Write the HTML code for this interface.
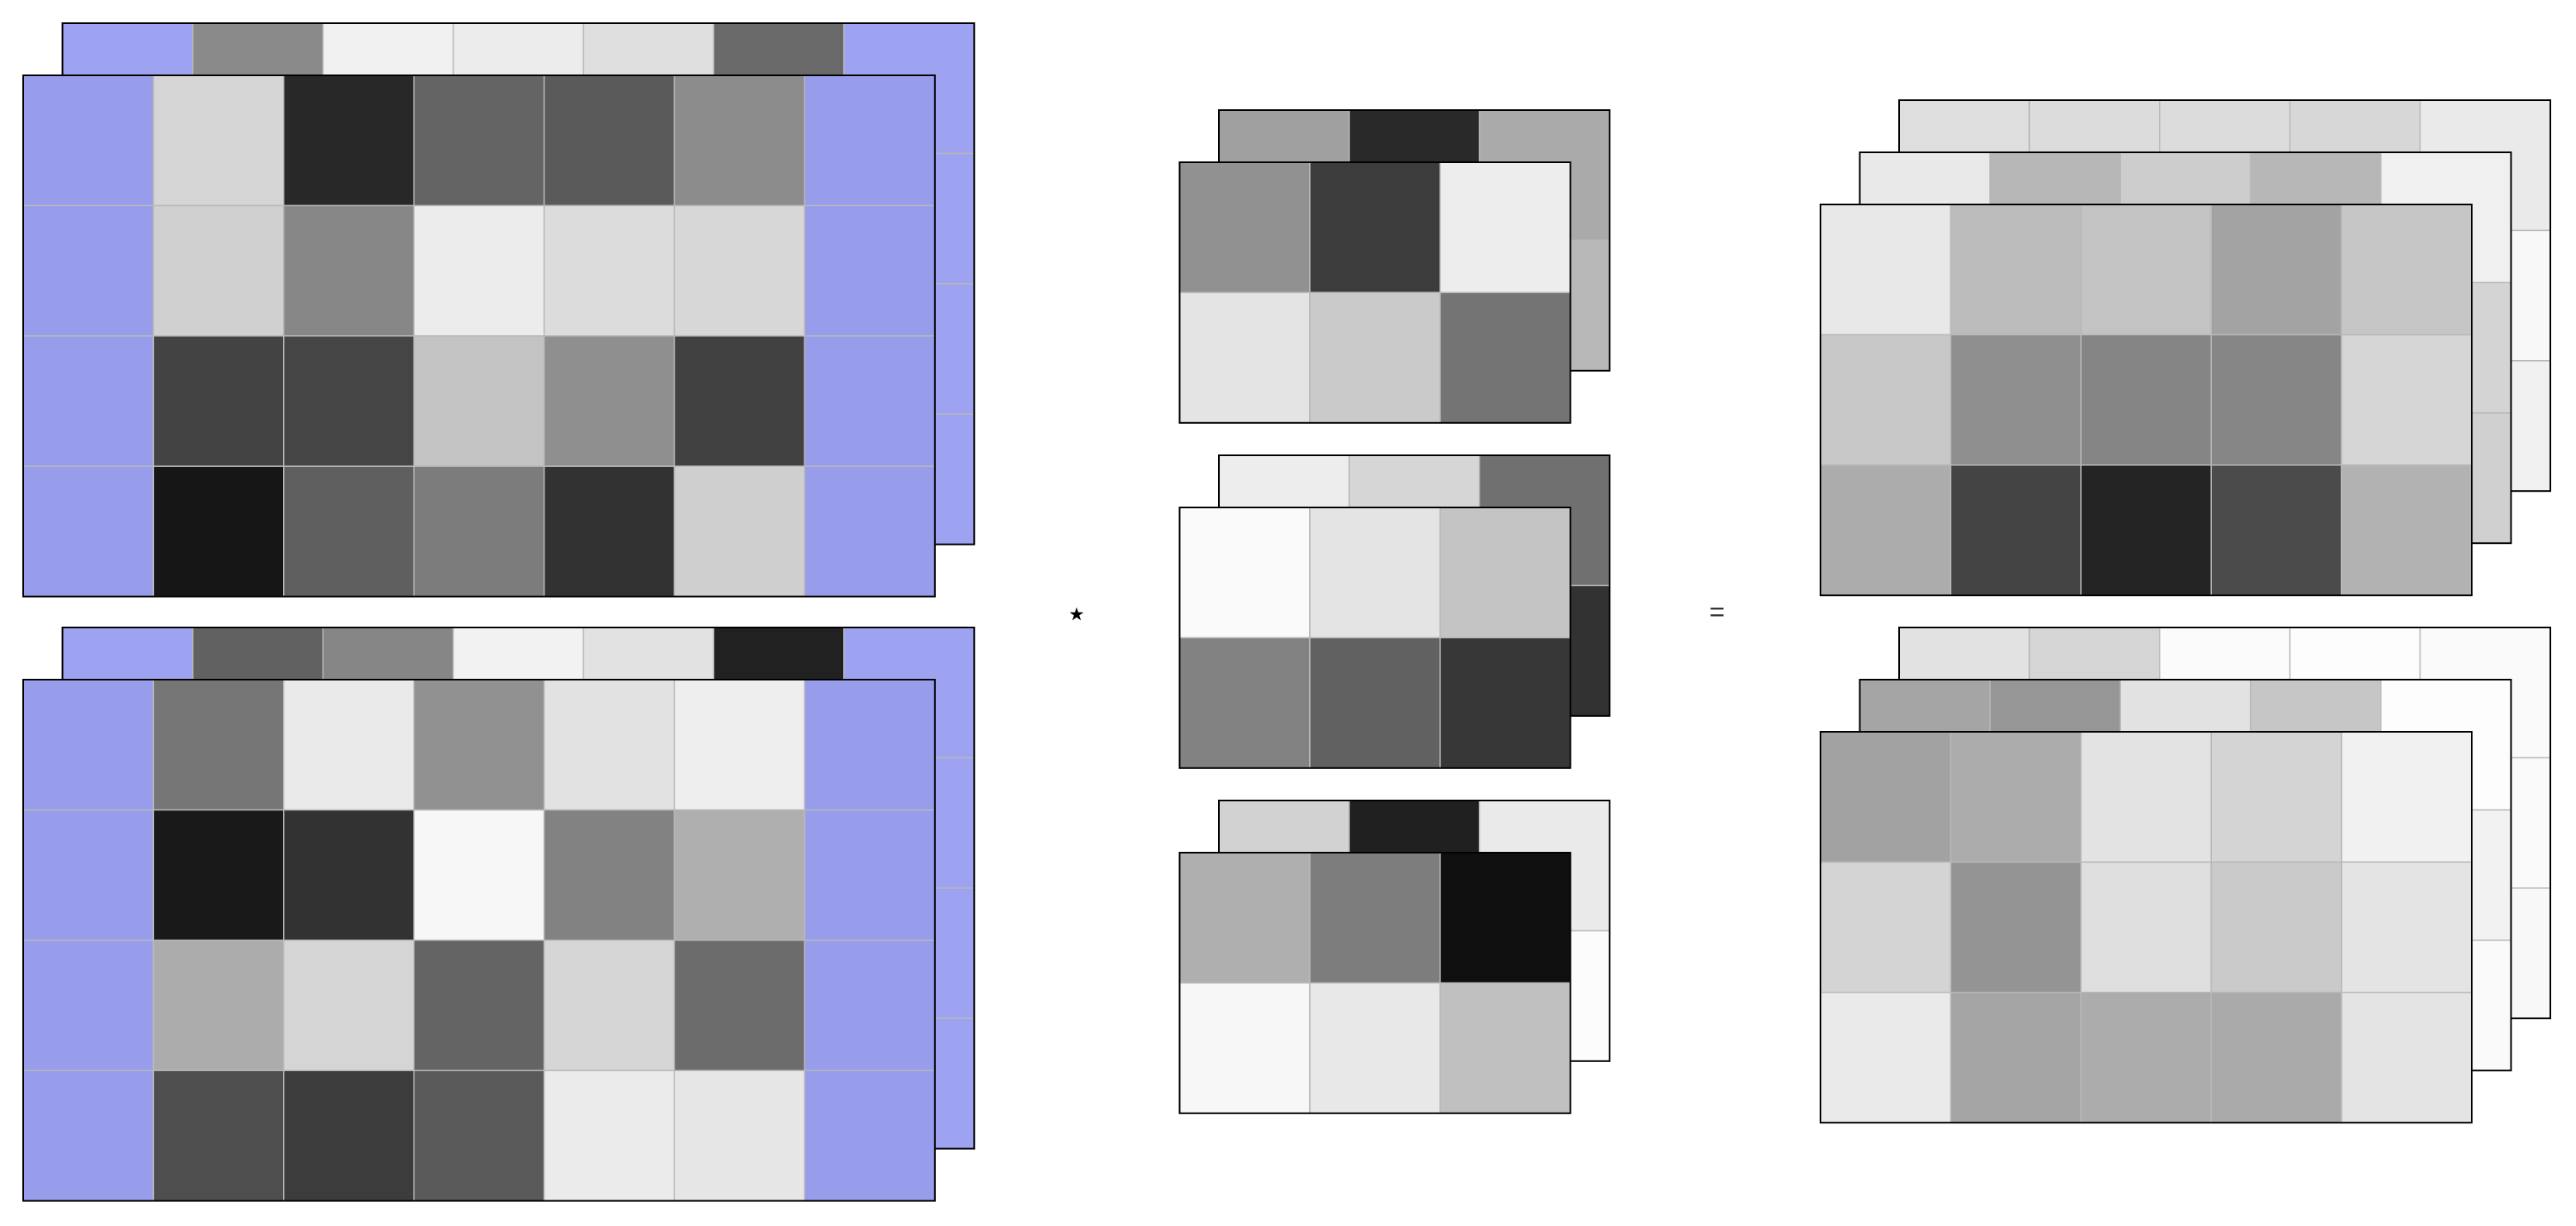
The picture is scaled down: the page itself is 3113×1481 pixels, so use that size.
<!DOCTYPE html>
<html><head><meta charset="utf-8"><style>
html,body{margin:0;padding:0;background:#fff;}
svg{display:block;}
</style></head><body>
<svg id="fig" width="3113" height="1481" viewBox="0 0 3113 1481" xmlns="http://www.w3.org/2000/svg">
<rect x="0" y="0" width="3113" height="1481" fill="#fff"/>
<text x="1301" y="756" font-family="DejaVu Sans, sans-serif" font-size="44" text-anchor="middle" fill="#000">⋆</text>
<text x="2075" y="750" font-family="Liberation Sans, sans-serif" font-size="32" text-anchor="middle" fill="#333">=</text>
</svg>
<script>
// grey values (0-255); -1 = blue padding
const P = -1;
const in1Back = [[P,138,241,236,222,105,P],[P,200,200,200,200,200,P],[P,200,200,200,200,200,P],[P,200,200,200,200,200,P]];
const in1Front = [[P,213,40,100,90,140,P],[P,208,135,236,220,215,P],[P,67,69,195,143,65,P],[P,22,95,124,50,207,P]];
const in2Back = [[P,97,134,242,226,33,P],[P,200,200,200,200,200,P],[P,200,200,200,200,200,P],[P,200,200,200,200,200,P]];
const in2Front = [[P,118,234,145,226,238,P],[P,25,50,247,130,175,P],[P,172,213,100,214,108,P],[P,78,60,90,235,230,P]];
const k1Back = [[160,41,170],[180,180,184]];
const k1Front = [[145,60,237],[228,202,116]];
const k2Back = [[237,214,112],[120,120,50]];
const k2Front = [[250,228,196],[130,97,55]];
const k3Back = [[210,32,234],[240,240,252]];
const k3Front = [[175,125,15],[247,232,192]];
const out1Back = [[222,220,220,215,234],[220,220,220,220,248],[220,220,220,220,241]];
const out1Mid = [[233,183,205,183,240],[200,200,200,200,212],[200,200,200,200,208]];
const out1Front = [[232,188,195,163,198],[200,143,133,134,213],[172,68,36,75,178]];
const out2Back = [[226,213,251,253,250],[250,250,250,250,250],[248,248,248,248,248]];
const out2Mid = [[165,150,226,198,253],[220,220,220,220,242],[220,220,220,220,250]];
const out2Front = [[162,172,227,212,241],[212,148,222,202,228],[234,165,172,170,228]];

const C = 157.4;
const NS = 'http://www.w3.org/2000/svg';
const svg = document.getElementById('fig');
function mk(tag, attrs){ const e=document.createElementNS(NS,tag); for(const k in attrs) e.setAttribute(k,attrs[k]); return e; }
function layer(vals, x0, y0, name, front){
  const g = mk('g',{});
  
  
  const R = vals.length, K = vals[0].length;
  for(let r=0;r<R;r++) for(let c=0;c<K;c++){
    const v = vals[r][c];
    const fill = v<0 ? (front ? '#979deb' : '#9da3f0') : `rgb(${v},${v},${v})`;
    const rc = mk('rect',{x:x0+c*C, y:y0+r*C, width:C, height:C, fill:fill, stroke:'#b8b8b8', 'stroke-width':1.5});
    
    
    g.appendChild(rc);
  }
  g.appendChild(mk('rect',{x:x0, y:y0, width:K*C, height:R*C, fill:'none', stroke:'#000', 'stroke-width':2}));
  svg.appendChild(g);
}
const dx = 47.5, dy = 63;
layer(in1Back, 75.5, 28, 'input1-channel-back', false);
layer(in1Front, 75.5-dx, 28+dy, 'input1-channel-front', true);
layer(in2Back, 75.5, 758, 'input2-channel-back', false);
layer(in2Front, 75.5-dx, 758+dy, 'input2-channel-front', true);
const kb = [[k1Back,k1Front,133],[k2Back,k2Front,550],[k3Back,k3Front,967]];
kb.forEach((k,i)=>{ layer(k[0],1473,k[2],'kernel'+(i+1)+'-back',false); layer(k[1],1473-dx,k[2]+dy,'kernel'+(i+1)+'-front',false); });
layer(out1Back, 2295, 121, 'output1-layer-back', false);
layer(out1Mid, 2295-dx, 121+dy, 'output1-layer-mid', false);
layer(out1Front, 2295-2*dx, 121+2*dy, 'output1-layer-front', false);
layer(out2Back, 2295, 758, 'output2-layer-back', false);
layer(out2Mid, 2295-dx, 758+dy, 'output2-layer-mid', false);
layer(out2Front, 2295-2*dx, 758+2*dy, 'output2-layer-front', false);
svg.querySelectorAll('text').forEach(t=>svg.appendChild(t));
</script>
</body></html>
